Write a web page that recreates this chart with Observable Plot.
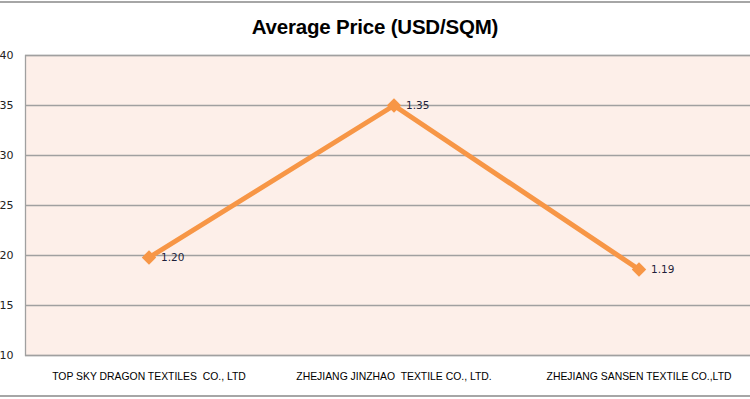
<!DOCTYPE html>
<html><head><meta charset="utf-8">
<script src="https://cdn.jsdelivr.net/npm/d3@7"></script>
<script src="https://cdn.jsdelivr.net/npm/@observablehq/plot@0.6"></script>
<style>
body{margin:0;background:#fff;overflow:hidden}
#wrap{position:relative;width:750px;height:399px;overflow:hidden}
#title{position:absolute;top:15px;left:0;width:750px;text-align:center;font:bold 20.5px "Liberation Sans",sans-serif;color:#000;letter-spacing:-0.2px}
#plot{position:absolute;top:0;left:0}
.bt{position:absolute;left:0;width:750px;height:2px;background:#a6a6a6}
</style></head><body>
<div id="wrap"><div class="bt" style="top:1px"></div><div id="plot"></div><div id="title">Average Price (USD/SQM)</div><div class="bt" style="top:395px"></div></div>
<script>
const companies = ["TOP SKY DRAGON TEXTILES  CO., LTD", "ZHEJIANG JINZHAO  TEXTILE CO., LTD.", "ZHEJIANG SANSEN TEXTILE CO.,LTD"];
const values = [19.8, 35, 18.6];
const labels = ["1.20", "1.35", "1.19"];
const yTicks = [10, 15, 20, 25, 30, 35, 40];
const data = companies.map((c, i) => ({company: c, value: values[i], label: labels[i]}));
const chart = Plot.plot({
  width: 750, height: 399,
  marginTop: 55, marginBottom: 44, marginLeft: 25, marginRight: -11,
  style: {fontFamily: "DejaVu Sans", background: "transparent", overflow: "hidden"},
  x: {type: "band", domain: companies, padding: 0, label: null},
  y: {domain: [10, 40], ticks: yTicks, label: null},
  marks: [
    Plot.frame({fill: "#fdefe9", stroke: null}),
    Plot.ruleY(yTicks, {stroke: "#a0a0a0", strokeWidth: 1.3}),
    Plot.frame({stroke: "#a0a0a0", strokeWidth: 1.3}),
    Plot.axisY({ticks: yTicks, tickSize: 0, tickPadding: 12, fontSize: 11, fill: "#222", tickFormat: d => d}),
    Plot.axisX({tickSize: 0, tickPadding: 17, fontSize: 10.4, fontFamily: "Liberation Sans", fill: "#000", label: null}),
    Plot.line(data, {x: "company", y: "value", stroke: "#f79646", strokeWidth: 5}),
    Plot.dot(data, {x: "company", y: "value", symbol: "diamond2", r: 6.5, fill: "#f79646", stroke: null}),
    Plot.text(data, {x: "company", y: "value", text: "label", dx: 12, textAnchor: "start", fontSize: 10.5, fill: "#1f1f3a"})
  ]
});
document.getElementById("plot").appendChild(chart);
</script>
</body></html>
